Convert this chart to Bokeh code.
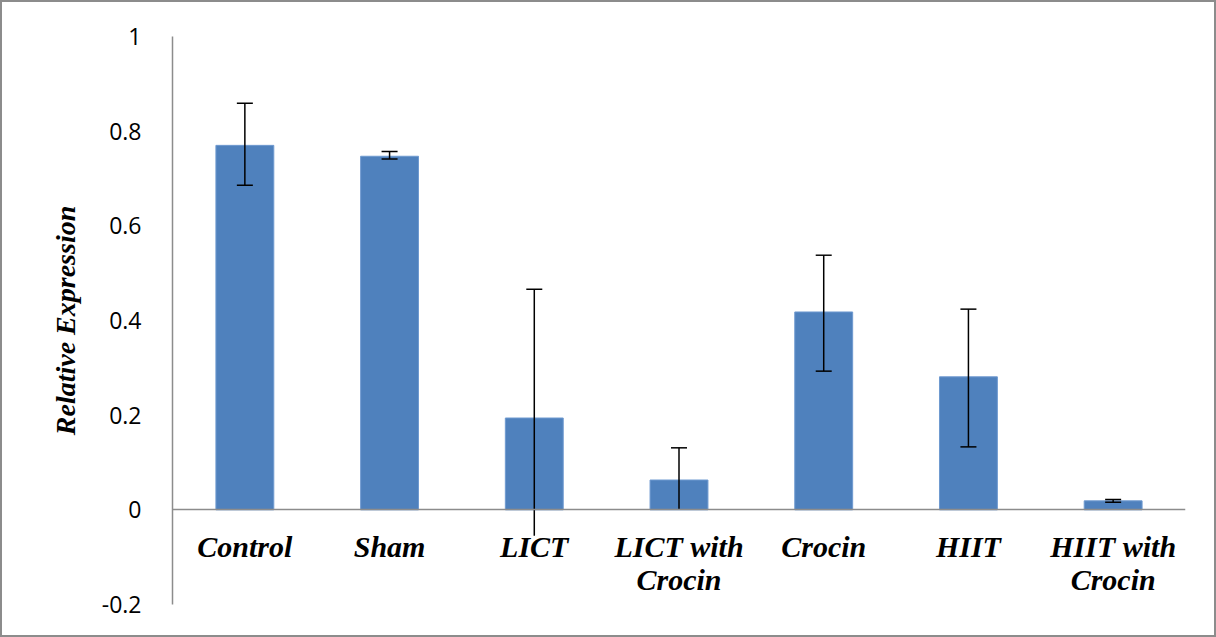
from bokeh.plotting import figure
from bokeh.models import FixedTicker, Range1d, FactorRange
from bokeh.embed import file_html
from bokeh.resources import INLINE

categories = ["Control", "Sham", "LICT", "LICT with\nCrocin", "Crocin", "HIIT", "HIIT with\nCrocin"]
values = [0.770, 0.747, 0.194, 0.063, 0.418, 0.281, 0.019]
err_upper = [0.859, 0.757, 0.466, 0.131, 0.538, 0.424, 0.022]
err_lower = [0.686, 0.741, -0.055, 0.0, 0.293, 0.133, 0.016]
y_ticks = [-0.2, 0, 0.2, 0.4, 0.6, 0.8, 1]
y_tick_labels = ["-0.2", "0", "0.2", "0.4", "0.6", "0.8", "1"]

p = figure(x_range=FactorRange(factors=categories, range_padding=0), y_range=Range1d(-0.2, 1.0),
           width=1216, height=637, output_backend="svg", toolbar_location=None,
           min_border_left=170, min_border_right=33, min_border_top=34, min_border_bottom=35)
p.styles = {"border": "2px solid #8c8c8c", "box-sizing": "border-box"}

p.vbar(x=categories, top=values, bottom=0, width=0.4, fill_color="#4F81BD", line_color="#6f9ad0", line_width=1)

p.segment(x0=categories, y0=err_lower, x1=categories, y1=err_upper, line_color="black", line_width=1.5)
p.scatter(x=categories, y=err_upper, marker="dash", size=16, line_color="black", line_width=1.5)
cap_x = [c for c, lo in zip(categories, err_lower) if lo > 0]
cap_y = [lo for lo in err_lower if lo > 0]
p.scatter(x=cap_x, y=cap_y, marker="dash", size=16, line_color="black", line_width=1.5)

p.xgrid.grid_line_color = None
p.ygrid.grid_line_color = None
p.outline_line_color = None

xa = p.xaxis[0]
xa.fixed_location = 0
xa.axis_line_color = "#8c8c8c"
xa.axis_line_width = 1.5
xa.major_tick_line_color = None
xa.minor_tick_line_color = None
xa.major_label_text_font = "Liberation Serif"
xa.major_label_text_font_style = "bold italic"
xa.major_label_text_font_size = "30px"
xa.major_label_text_line_height = 1.0
xa.major_label_text_color = "black"
xa.major_label_standoff = 14

ya = p.yaxis[0]
ya.ticker = FixedTicker(ticks=y_ticks)
ya.major_label_overrides = {t: l for t, l in zip(y_ticks, y_tick_labels)}
ya.axis_line_color = "#8c8c8c"
ya.axis_line_width = 1.5
ya.major_tick_line_color = None
ya.minor_tick_line_color = None
ya.major_label_text_font = "Open Sans"
ya.major_label_text_font_size = "23px"
ya.major_label_text_color = "black"
ya.major_label_standoff = 25
ya.axis_label = "Relative Expression"
ya.axis_label_text_font = "Liberation Serif"
ya.axis_label_text_font_style = "bold italic"
ya.axis_label_text_font_size = "28px"
ya.axis_label_text_color = "black"
ya.axis_label_standoff = 18

open("out.html", "w").write(file_html(p, INLINE))
